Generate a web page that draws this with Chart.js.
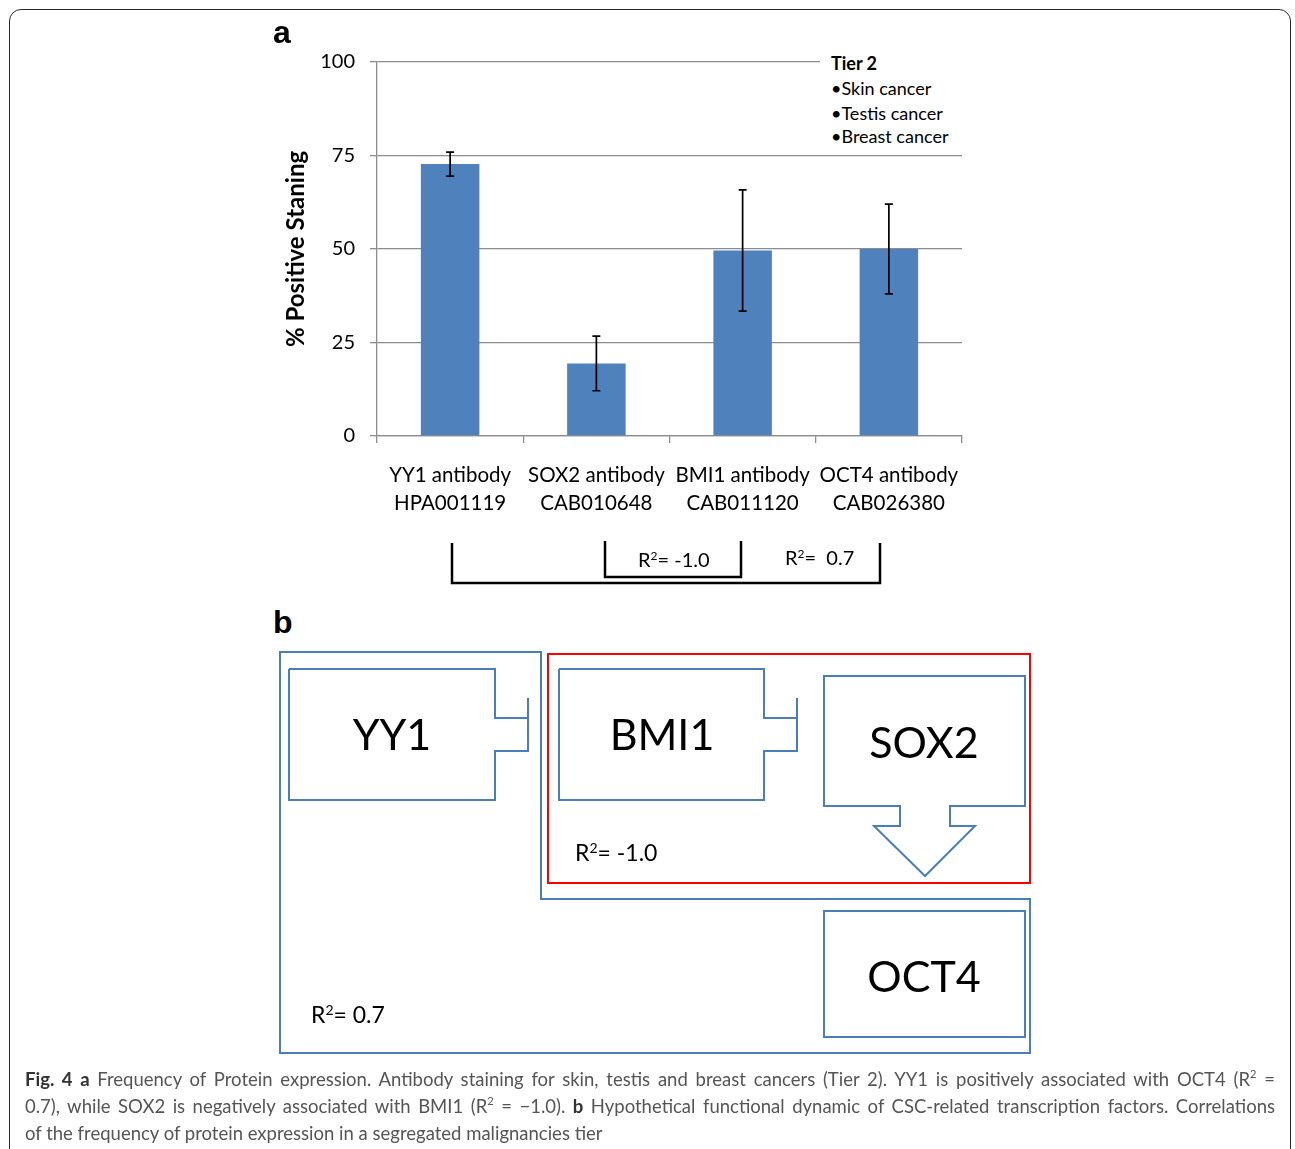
<!DOCTYPE html>
<html>
<head>
<meta charset="utf-8">
<script src="https://cdn.jsdelivr.net/npm/chart.js@4.4.1/dist/chart.umd.min.js"></script>
<style>
  html, body { margin:0; padding:0; background:#fff; }
  body { width:1295px; height:1149px; position:relative; overflow:hidden; font-family: Lato, "Open Sans", sans-serif; }
  #frame { position:absolute; left:9px; top:9px; width:1282px; height:1200px; border:1.5px solid #2a2a2a; border-radius:12px; box-sizing:border-box; }
  #chartWrap { position:absolute; left:0; top:0; width:1295px; height:540px; }
  .panel { position:absolute; font-family:"Liberation Sans", Arial, sans-serif; font-weight:bold; font-size:32px; color:#000; }
  #tier { position:absolute; left:820px; top:50px; width:142px; height:100px; background:#fff; font-family:Lato, sans-serif; font-size:18px; color:#000; }
  #tier div { position:absolute; left:11px; white-space:nowrap; }
  #caption { position:absolute; left:25px; top:1066px; width:1250px; font-family:Lato, sans-serif; font-size:18.5px; color:#555; }
  #caption .ln { height:27px; line-height:27px; text-align:justify; text-align-last:justify; }
  #caption b { color:#333; }
  sup { font-size:60%; line-height:0; position:relative; top:-1px; vertical-align:super; }
  svg { position:absolute; left:0; top:0; }
</style>
</head>
<body>
<div id="frame"></div>
<div id="chartWrap"><canvas id="c" width="1295" height="540"></canvas></div>
<div class="panel" style="left:273px; top:14px;">a</div>
<div class="panel" style="left:273px; top:604px;">b</div>
<div id="tier">
  <div style="top:2px; font-weight:bold;">Tier 2</div>
  <div style="top:27px;">•Skin cancer</div>
  <div style="top:52px;">•Testis cancer</div>
  <div style="top:75px;">•Breast cancer</div>
</div>

<svg width="1295" height="1149" xmlns="http://www.w3.org/2000/svg">
  <!-- brackets under panel a -->
  <g fill="none" stroke="#000" stroke-width="2.5">
    <polyline points="452,543 452,583 880,583 880,543"/>
    <polyline points="605,541 605,577 741,577 741,541"/>
  </g>
  <g font-family="Lato, sans-serif" font-size="20" fill="#000">
    <text x="638" y="567">R<tspan dy="-7" font-size="12">2</tspan><tspan dy="7">= -1.0</tspan></text>
    <text x="785" y="565">R<tspan dy="-7" font-size="12">2</tspan><tspan dy="7">=&#160; 0.7</tspan></text>
  </g>
  <!-- panel b -->
  <g fill="none" stroke="#4a7ebb" stroke-width="2">
    <polygon points="280,652 541,652 541,899 1030,899 1030,1053 280,1053"/>
    <polyline points="289,669 495,669 495,718 528,718"/>
    <polyline points="528,698 528,751 495,751 495,800 289,800 289,669"/>
    <polyline points="559,669 764,669 764,718 797,718"/>
    <polyline points="797,698 797,751 764,751 764,800 559,800 559,669"/>
    <polygon points="824,676 1025,676 1025,806 950,806 950,826 975,826 925,876 874,826 900,826 900,806 824,806"/>
    <rect x="824" y="911" width="201" height="126"/>
  </g>
  <rect x="548" y="654" width="482" height="229" fill="none" stroke="#ff0000" stroke-width="2"/>
  <g font-family="Lato, sans-serif" fill="#000" text-anchor="middle" font-size="43">
    <text x="392" y="750">YY1</text>
    <text x="662" y="750">BMI1</text>
    <text x="924" y="758">SOX2</text>
    <text x="924" y="992">OCT4</text>
  </g>
  <g font-family="Lato, sans-serif" font-size="23" fill="#000">
    <text x="575" y="861">R<tspan dy="-8" font-size="14">2</tspan><tspan dy="8">= -1.0</tspan></text>
    <text x="311" y="1023">R<tspan dy="-8" font-size="14">2</tspan><tspan dy="8">= 0.7</tspan></text>
  </g>
</svg>

<div id="caption">
  <div class="ln"><b>Fig. 4 a</b> Frequency of Protein expression. Antibody staining for skin, testis and breast cancers (Tier 2). YY1 is positively associated with OCT4 (R<sup>2</sup> =</div>
  <div class="ln">0.7), while SOX2 is negatively associated with BMI1 (R<sup>2</sup> = −1.0). <b>b</b> Hypothetical functional dynamic of CSC-related transcription factors. Correlations</div>
  <div style="height:27px; line-height:27px;">of the frequency of protein expression in a segregated malignancies tier</div>
</div>

<script>
// ---- data ----
const categories = [
  ["YY1 antibody", "HPA001119"],
  ["SOX2 antibody", "CAB010648"],
  ["BMI1 antibody", "CAB011120"],
  ["OCT4 antibody", "CAB026380"]
];
const values = [72.7, 19.4, 49.6, 50.0];
const errors = [3.2, 7.3, 16.2, 12.0];
const yTicks = [0, 25, 50, 75, 100];

const errorBars = {
  id: 'errorBars',
  afterDatasetsDraw(chart) {
    const ctx = chart.ctx;
    const meta = chart.getDatasetMeta(0);
    const ys = chart.scales.y;
    ctx.save();
    ctx.strokeStyle = '#000';
    ctx.lineWidth = 1.7;
    meta.data.forEach((bar, i) => {
      const x = bar.x;
      const t = ys.getPixelForValue(values[i] + errors[i]);
      const b = ys.getPixelForValue(values[i] - errors[i]);
      ctx.beginPath();
      ctx.moveTo(x, t); ctx.lineTo(x, b);
      ctx.moveTo(x - 4, t); ctx.lineTo(x + 4, t);
      ctx.moveTo(x - 4, b); ctx.lineTo(x + 4, b);
      ctx.stroke();
    });
    ctx.restore();
  }
};

new Chart(document.getElementById('c'), {
  type: 'bar',
  data: {
    labels: categories,
    datasets: [{
      data: values,
      backgroundColor: '#4f81bd',
      borderWidth: 0,
      barPercentage: 0.4,
      categoryPercentage: 1.0
    }]
  },
  options: {
    responsive: false,
    animation: false,
    devicePixelRatio: 1,
    layout: { padding: { left: 277, right: 333, top: 62, bottom: 0 } },
    plugins: { legend: { display: false }, tooltip: { enabled: false } },
    scales: {
      x: {
        afterFit(s) { s.height = 104; },
        grid: { drawOnChartArea: false, drawTicks: true, tickLength: 7, color: '#8c8c8c', lineWidth: 1.3, offset: true },
        border: { color: '#8c8c8c', width: 1.3 },
        ticks: { color: '#000', font: { family: 'Lato', size: 20.5, lineHeight: 1.37 }, padding: 18, maxRotation: 0, autoSkip: false }
      },
      y: {
        min: 0, max: 100,
        afterFit(s) { s.width = 100; },
        afterBuildTicks(s) { s.ticks = yTicks.map(v => ({ value: v })); },
        grid: { color: '#8c8c8c', lineWidth: 1.3, tickLength: 7 },
        border: { color: '#8c8c8c', width: 1.3 },
        ticks: { color: '#000', font: { family: 'Lato', size: 20 }, padding: 15 },
        title: { display: true, text: '% Positive Staning', color: '#000', font: { family: 'Lato', size: 24, weight: 'bold' }, padding: { top: 5, bottom: 0 } }
      }
    }
  },
  plugins: [errorBars]
});
</script>
</body>
</html>
